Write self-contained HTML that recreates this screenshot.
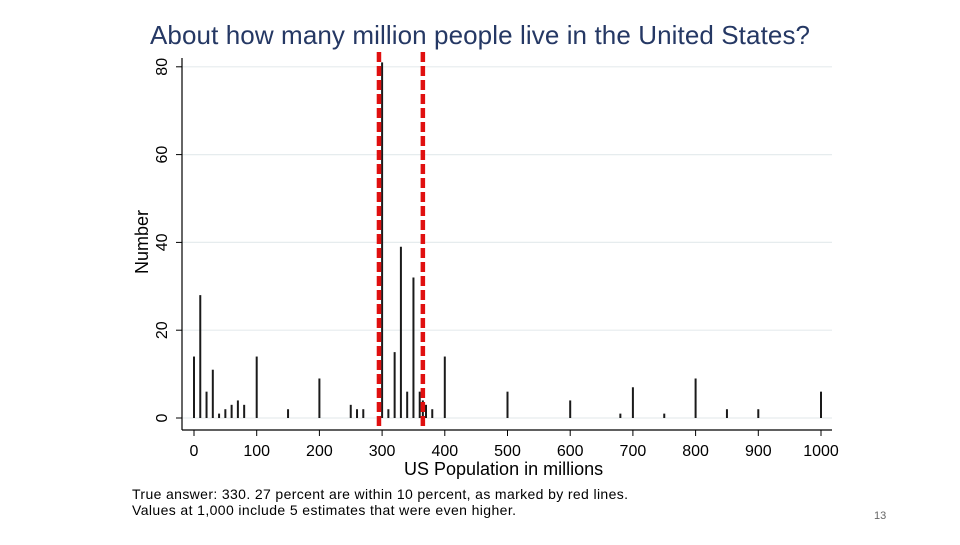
<!DOCTYPE html>
<html><head><meta charset="utf-8"><style>
body{margin:0;background:#fff;width:960px;height:540px;overflow:hidden;font-family:"Liberation Sans",sans-serif}
</style></head><body>
<svg width="960" height="540" id="chart">
<text x="480" y="44" text-anchor="middle" font-size="26" textLength="660" fill="#253864">About how many million people live in the United States?</text>
<g id="grid"></g><g id="bars"></g><g id="axes"></g><g id="refs"></g>
<text x="404" y="475" font-size="18" fill="#000">US Population in millions</text>
<text transform="translate(148,242) rotate(-90)" text-anchor="middle" font-size="18" fill="#000">Number</text>
<text x="132" y="499" font-size="14" textLength="496" fill="#000">True answer: 330. 27 percent are within 10 percent, as marked by red lines.</text>
<text x="132" y="515" font-size="14" textLength="384" fill="#000">Values at 1,000 include 5 estimates that were even higher.</text>
<text x="874" y="519" font-size="11" fill="#666">13</text>
</svg>
<script>
const categories=[0,10,20,30,40,50,60,70,80,100,150,200,250,260,270,300,310,320,330,340,350,360,365,370,380,400,500,600,680,700,750,800,850,900,1000];
const counts=[14,28,6,11,1,2,3,4,3,14,2,9,3,2,2,81,2,15,39,6,32,6,4,3,2,14,6,4,1,7,1,9,2,2,6];
const xTicks=[0,100,200,300,400,500,600,700,800,900,1000];
const yTicks=[0,20,40,60,80];
const refLines=[295,365];
const NS="http://www.w3.org/2000/svg";
const X=v=>194+v*0.627, Y=v=>418-v*4.39;
function mk(t,a,p){const e=document.createElementNS(NS,t);for(const k in a)e.setAttribute(k,a[k]);p.appendChild(e);return e;}
const g=document.getElementById('grid'),b=document.getElementById('bars'),ax=document.getElementById('axes'),r=document.getElementById('refs');
yTicks.forEach(t=>{const l=mk('line',{x1:182,x2:832,y1:Y(t),y2:Y(t),stroke:'#e6ecee','stroke-width':1.2},g);


mk('line',{x1:176,x2:182,y1:Y(t),y2:Y(t),stroke:'#000'},ax);
const tx=mk('text',{transform:`translate(167,${Y(t)}) rotate(-90)`,'text-anchor':'middle','font-size':16},ax);tx.textContent=t;

});
xTicks.forEach(t=>{mk('line',{x1:X(t),x2:X(t),y1:430,y2:436,stroke:'#000'},ax);
const tx=mk('text',{x:X(t),y:456,'text-anchor':'middle','font-size':16},ax);tx.textContent=t;

});
mk('line',{x1:182,x2:182,y1:58,y2:430,stroke:'#000','stroke-width':1.2},ax);
mk('line',{x1:182,x2:832,y1:430,y2:430,stroke:'#000','stroke-width':1.2},ax);
categories.forEach((c,i)=>{const l=mk('line',{x1:X(c),x2:X(c),y1:Y(0),y2:Y(counts[i]),stroke:'#1a1a1a','stroke-width':2},b);

});
refLines.forEach(v=>{const l=mk('line',{x1:X(v),x2:X(v),y1:52,y2:430,stroke:'#e01010','stroke-width':4.5,'stroke-dasharray':'10 4'},r);

});
</script>
</body></html>
